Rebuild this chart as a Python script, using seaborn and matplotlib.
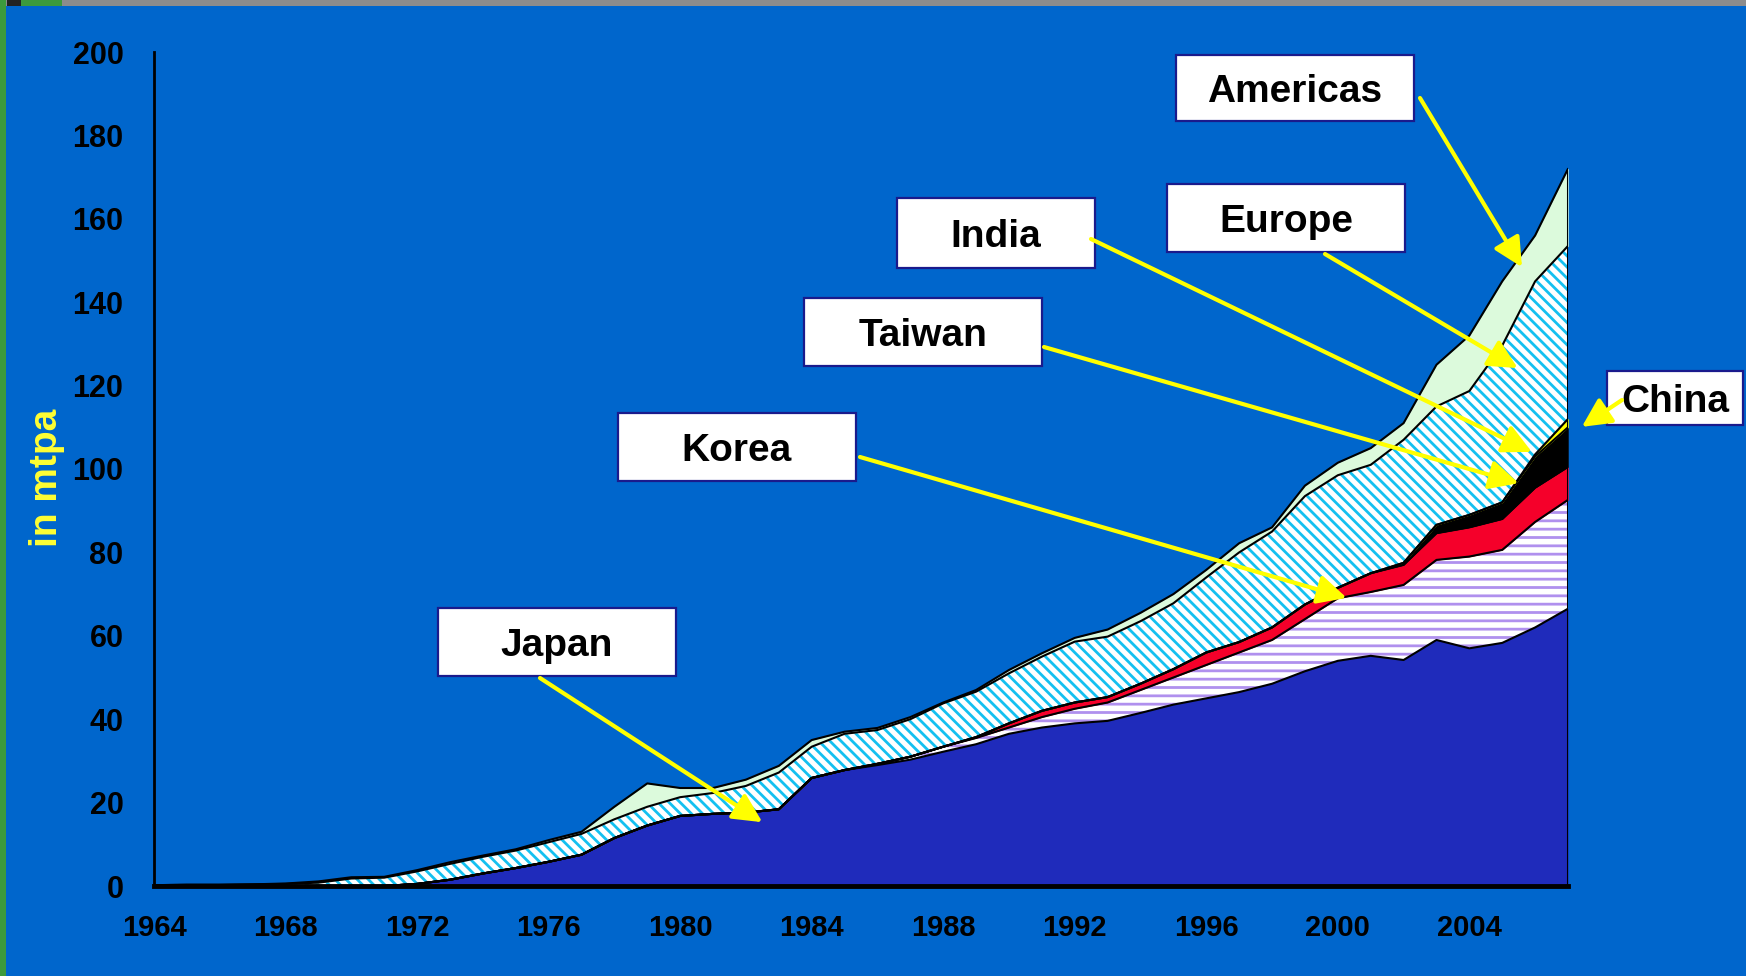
import matplotlib
matplotlib.use("Agg")
import matplotlib.pyplot as plt
import seaborn as sns
import numpy as np
from matplotlib.patches import Rectangle

# ---------------- data (mtpa) ----------------
years = list(range(1964, 2008))

japan = [0, 0, 0, 0, 0, 0, 0, 0,
         0.5, 1.5, 3.0, 4.3, 5.8, 7.5, 11.5, 14.5,
         16.8, 17.3, 17.6, 18.4, 25.9, 27.8, 29.0, 30.3,
         32.2, 34.0, 36.5, 38.0, 39.0, 39.6, 41.5, 43.5,
         45.0, 46.5, 48.5, 51.5, 54.0, 55.2, 54.2, 59.0,
         57.0, 58.3, 62.0, 66.5]
korea = [0] * 22 + [0.3, 0.7, 1.2, 1.5, 1.5, 2.5, 3.5, 4.4, 5.5, 6.5, 8.0,
                    9.5, 10.5, 12.5, 15.0, 15.3, 18.0, 19.2, 22.0, 22.3, 25.3, 26.1]
taiwan = [0] * 25 + [0.2, 1.0, 1.5, 1.5, 1.3, 1.5, 2.0, 3.0, 2.5, 3.0,
                     3.5, 2.5, 4.5, 4.8, 6.4, 7.0, 7.4, 8.2, 7.9]
india = [0] * 38 + [0.5, 2.0, 3.0, 4.0, 7.5, 9.5]
china = [0] * 42 + [0.5, 2.0]
europe = [0.2, 0.3, 0.3, 0.4, 0.5, 0.8, 1.8, 2.0,
          3.0, 3.8, 4.0, 4.2, 4.7, 5.0, 4.5, 4.5,
          4.5, 5.0, 6.4, 8.8, 7.5, 8.7, 8.1, 9.0,
          10.4, 10.9, 12.0, 13.0, 14.6, 14.5, 15.0, 15.8,
          18.0, 21.5, 23.0, 26.0, 27.0, 26.0, 29.5, 28.4,
          29.7, 37.6, 41.5, 41.5]
americas = [0, 0, 0, 0, 0.1, 0.3, 0.3, 0.2,
            0.3, 0.4, 0.3, 0.3, 0.5, 0.5, 3.0, 5.6,
            2.2, 1.2, 1.5, 1.6, 1.6, 0.5, 0.5, 0.5,
            0.2, 0.4, 0.8, 0.8, 0.9, 1.7, 2.0, 2.2,
            1.8, 2.2, 1.0, 2.5, 3.0, 4.0, 4.0, 10.0,
            13.3, 15.4, 11.0, 18.5]

x_ticks = list(range(1964, 2005, 4))
y_ticks = list(range(0, 201, 20))

# ---------------- style ----------------
BG = "#0066CC"
sns.set_theme(style="white")
plt.rcParams["font.family"] = ["Liberation Sans", "DejaVu Sans"]
plt.rcParams["hatch.linewidth"] = 2.0

W, H = 1746, 976
fig = plt.figure(figsize=(W / 100, H / 100), dpi=100, facecolor=BG)
ax = fig.add_axes([154 / W, 1 - 886 / H, 1414 / W, 834 / H])
ax.set_facecolor(BG)

layers = [
    ("Japan", japan, "#1F2BBB", None, None),
    ("Korea", korea, "white", "--", "#B090EE"),
    ("Taiwan", taiwan, "#F5002A", None, None),
    ("India", india, "black", None, None),
    ("China", china, "#FFFF00", None, None),
    ("Europe", europe, "white", "\\\\\\", "#14C0F0"),
    ("Americas", americas, "#DCFADC", None, None),
]

xv = np.array(years, dtype=float)
lower = np.zeros(len(years))
for name, vals, face, hatch, hcol in layers:
    upper = lower + np.array(vals, dtype=float)
    if hatch:
        ax.fill_between(xv, lower, upper, facecolor=face, edgecolor=hcol,
                        hatch=hatch, linewidth=0, zorder=1)
    else:
        ax.fill_between(xv, lower, upper, facecolor=face, edgecolor=face,
                        linewidth=0.3, zorder=1)
    lower = upper

# boundary outlines
lower = np.zeros(len(years))
for name, vals, face, hatch, hcol in layers:
    upper = lower + np.array(vals, dtype=float)
    sns.lineplot(x=xv, y=upper, ax=ax, color="black", linewidth=1.5,
                 estimator=None, sort=False, zorder=2)
    lower = upper
ax.vlines(xv[-1], 0, lower[-1], color="black", linewidth=2.2, zorder=2)

ax.set_xlim(1964, 2007)
ax.set_ylim(0, 200)
ax.set_xticks(x_ticks)
ax.set_yticks(y_ticks)
ax.set_xticklabels([str(t) for t in x_ticks], fontsize=21, fontweight="bold")
ax.set_yticklabels([str(t) for t in y_ticks], fontsize=22, fontweight="bold")
ax.tick_params(axis="x", direction="inout", length=15, width=1.2,
               color="#1a1a1a", pad=13, labelcolor="black")
ax.tick_params(axis="y", direction="inout", length=16, width=2,
               color="black", pad=14, labelcolor="black")
for s in ("top", "right"):
    ax.spines[s].set_visible(False)
ax.spines["left"].set_color("black")
ax.spines["left"].set_linewidth(2)
ax.spines["bottom"].set_color("black")
ax.spines["bottom"].set_linewidth(3.5)
ax.grid(False)
ax.set_xlabel("")
ax.set_ylabel("")

fig.text(47 / W, 1 - 478 / H, "in mtpa", rotation=90, ha="center", va="center",
         color="#FFFF33", fontsize=28, fontweight="bold")

# ---------------- labels with arrows ----------------
def fx(px):
    return px / W


def fy(py):
    return 1 - py / H


callouts = [
    # text, box (x0, y0, x1, y1) in px, arrow start px, arrow tip (year, value)
    ("Americas", (1176, 55, 1414, 121), (1420, 98), (2005.6, 148.4)),
    ("Europe", (1167, 184, 1405, 252), (1325, 254), (2005.47, 124.2)),
    ("India", (897, 198, 1095, 268), (1091, 239), (2005.9, 104.1)),
    ("Taiwan", (804, 298, 1042, 366), (1044, 347), (2005.5, 96.6)),
    ("Korea", (618, 413, 856, 481), (860, 457), (2000.27, 69.1)),
    ("Japan", (438, 608, 676, 676), (540, 678), (1982.5, 15.3)),
    ("China", (1607, 371, 1743, 425), (1622, 400), (2007.42, 110.1)),
]

for text, (x0, y0, x1, y1), (sx, sy), tip in callouts:
    ax.add_patch(Rectangle((fx(x0), fy(y1)), fx(x1) - fx(x0), fy(y0) - fy(y1),
                           transform=fig.transFigure, facecolor="white",
                           edgecolor="#1A1A8C", linewidth=1.6, zorder=5,
                           clip_on=False))
    ax.text(fx((x0 + x1) / 2), fy((y0 + y1) / 2 + 4), text, transform=fig.transFigure,
            ha="center", va="center", fontsize=28, fontweight="bold",
            color="black", zorder=6, clip_on=False)
    ax.annotate("", xy=tip, xycoords="data", xytext=(fx(sx), fy(sy)),
                textcoords="figure fraction", annotation_clip=False, zorder=7,
                arrowprops=dict(arrowstyle="-|>,head_length=0.8,head_width=0.4",
                                color="#FFFF00", lw=3, mutation_scale=22,
                                shrinkA=0, shrinkB=0))

# ---------------- slide frame decorations ----------------
fig.patches.append(Rectangle((0, fy(6)), 1, 6 / H, transform=fig.transFigure,
                             facecolor="#8C8C8C", edgecolor="none", zorder=7))
fig.patches.append(Rectangle((fx(7), fy(6)), 14 / W, 6 / H, transform=fig.transFigure,
                             facecolor="#222222", edgecolor="none", zorder=8))
fig.patches.append(Rectangle((fx(21), fy(6)), 41 / W, 6 / H, transform=fig.transFigure,
                             facecolor="#3C9A3C", edgecolor="none", zorder=8))
fig.patches.append(Rectangle((0, 0), 6 / W, 1, transform=fig.transFigure,
                             facecolor="#3C9A3C", edgecolor="none", zorder=8))

fig.savefig("out.png", dpi=100, facecolor=BG)
